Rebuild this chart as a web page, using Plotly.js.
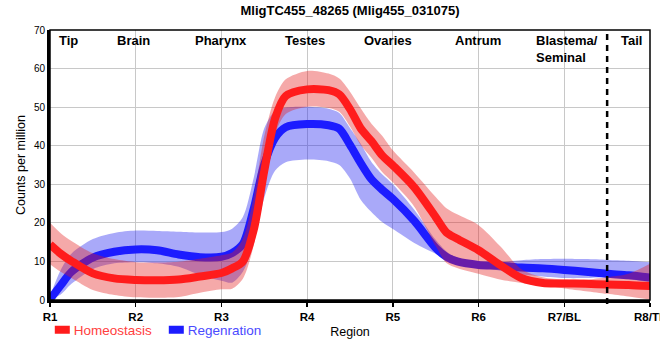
<!DOCTYPE html>
<html>
<head>
<meta charset="utf-8">
<script src="https://cdn.plot.ly/plotly-3.0.1.min.js"></script>
<style>html,body{margin:0;padding:0;background:#fff;}#chart{width:660px;height:360px;}</style>
</head>
<body>
<div id="chart"></div>
<script>
// Sample positions along the body axis (R1 = 1 ... R8 = 8)
const position = [1, 1.125, 1.25, 1.5, 1.75, 2, 2.25, 2.5, 2.75, 3, 3.125, 3.25, 3.375, 3.5, 3.625, 3.75, 4, 4.25, 4.375, 4.5, 4.625, 4.75, 4.875, 5, 5.25, 5.5, 5.625, 5.75, 6, 6.25, 6.5, 6.75, 7, 7.25, 7.5, 7.75, 8];

const homeoMean  = [14.4, 12.0, 10.1, 6.9, 5.6, 5.2, 5.1, 5.3, 6.1, 7.0, 8.2, 10.0, 18.0, 33.5, 47.0, 52.9, 54.6, 54.4, 53.3, 49.5, 44.5, 41.2, 37.5, 34.9, 29.2, 21.5, 17.5, 15.9, 12.9, 9.1, 5.7, 4.4, 4.3, 4.2, 4.0, 3.9, 3.6];
const homeoUpper = [20.0, 17.3, 15.3, 12.1, 10.6, 9.8, 9.7, 9.9, 10.7, 11.6, 12.3, 15.8, 26.5, 42.5, 52.5, 57.2, 59.4, 58.7, 57.4, 54.0, 49.7, 45.7, 42.6, 38.8, 33.0, 26.7, 23.8, 22.2, 19.4, 14.0, 8.0, 5.9, 5.3, 5.3, 5.9, 6.8, 9.4];
const homeoLower = [9.3, 7.3, 5.7, 2.6, 1.3, 0.7, 0.6, 0.8, 1.9, 2.8, 2.9, 5.5, 14.0, 30.0, 43.0, 48.2, 50.1, 49.8, 48.8, 45.0, 40.2, 36.9, 33.2, 30.5, 24.2, 14.0, 9.6, 8.3, 6.8, 5.3, 4.4, 3.9, 3.0, 2.3, 1.6, 0.9, 0.1];

const regenMean  = [0.2, 3.8, 7.3, 11.0, 12.5, 13.1, 12.9, 11.8, 11.1, 11.2, 12.2, 14.5, 23.5, 35.2, 42.0, 44.8, 45.6, 45.3, 44.4, 40.2, 35.5, 31.3, 28.6, 26.2, 20.5, 13.5, 11.2, 10.0, 9.1, 8.9, 8.4, 8.2, 7.8, 7.3, 6.8, 6.4, 5.8];
const regenUpper = [1.0, 7.8, 12.0, 15.8, 17.4, 18.0, 17.9, 17.7, 17.5, 17.6, 18.5, 21.5, 31.5, 44.5, 49.0, 49.9, 50.1, 49.6, 48.5, 44.6, 40.5, 35.8, 32.6, 30.0, 23.4, 15.6, 12.6, 11.0, 9.8, 9.9, 10.3, 10.6, 10.7, 10.6, 10.4, 10.2, 9.8];
const regenLower = [0.0, 1.4, 4.2, 8.0, 9.5, 9.8, 9.5, 8.6, 6.5, 5.0, 4.5, 7.3, 14.5, 26.5, 33.5, 35.7, 36.4, 36.0, 35.0, 31.5, 26.0, 22.8, 20.2, 18.4, 14.8, 12.0, 10.6, 9.2, 8.4, 7.6, 6.6, 6.1, 5.7, 5.7, 5.9, 5.4, 4.6];

const tickValues = [1, 2, 3, 4, 5, 6, 7, 8];
const tickLabels = ['R1', 'R2', 'R3', 'R4', 'R5', 'R6', 'R7/BL', 'R8/TL'];
const regionNames = ['Tip', 'Brain', 'Pharynx', 'Testes', 'Ovaries', 'Antrum', 'Blastema/<br>Seminal', 'Tail'];
const seriesNames = ['Homeostasis', 'Regenration'];
const tailBoundary = 7.5;

const FONT = 'Liberation Sans, Arial, sans-serif';
const RED = 'rgb(255,28,28)';
const BLUE = 'rgb(28,28,255)';
const RED_BAND = 'rgba(228,30,30,0.38)';
const BLUE_BAND = 'rgba(30,30,240,0.38)';

function band(lower, upper, color) {
  return [
    {x: position, y: lower, type: 'scatter', mode: 'lines', line: {width: 0, shape: 'spline', smoothing: 0.8}, hoverinfo: 'skip', showlegend: false},
    {x: position, y: upper, type: 'scatter', mode: 'lines', fill: 'tonexty', fillcolor: color, line: {width: 0, shape: 'spline', smoothing: 0.8}, hoverinfo: 'skip', showlegend: false}
  ];
}

const traces = [
  ...band(regenLower, regenUpper, BLUE_BAND),
  {x: position, y: regenMean, type: 'scatter', mode: 'lines', name: '<span style="color:#4a4aff">' + seriesNames[1] + '</span>', line: {color: BLUE, width: 8, shape: 'spline', smoothing: 0.8}},
  ...band(homeoLower, homeoUpper, RED_BAND),
  {x: position, y: homeoMean, type: 'scatter', mode: 'lines', name: '<span style="color:#ff4040">' + seriesNames[0] + '</span>', line: {color: RED, width: 8, shape: 'spline', smoothing: 0.8}}
];

const regionNameX = [1.22, 1.97, 2.99, 3.97, 4.94, 5.99, 6.65, 7.78];
const annotations = regionNames.map((t, i) => ({
  x: regionNameX[i], xref: 'x', y: 0.995, yref: 'paper', yanchor: 'top',
  xanchor: i === 6 ? 'left' : 'center', align: 'left',
  text: '<b>' + t + '</b>', showarrow: false,
  font: {family: FONT, size: 13, color: '#000'}
}));

const layout = {
  width: 660, height: 360,
  margin: {l: 50, r: 10, t: 30, b: 60},
  paper_bgcolor: '#fff', plot_bgcolor: '#fff',
  font: {family: FONT, color: '#000'},
  title: {text: '<b>MligTC455_48265 (Mlig455_031075)</b>', font: {family: FONT, size: 13, color: '#000'}, x: 0.5, xref: 'paper', y: 0.972, yref: 'container', yanchor: 'middle'},
  xaxis: {
    range: [1, 8], tickvals: tickValues, ticktext: tickLabels,
    tickfont: {family: FONT, size: 11.5, color: '#000', weight: 'bold'},
    ticklabeloverflow: 'allow',
    showgrid: true, gridcolor: '#c8c8c8', gridwidth: 1,
    showline: true, linecolor: '#000', linewidth: 3,
    ticks: 'outside', ticklen: 4, tickwidth: 1.5, tickcolor: '#000',
    zeroline: false, automargin: false,
    title: {text: 'Region', font: {family: FONT, size: 12.5, color: '#000'}, standoff: 6}
  },
  yaxis: {
    range: [0, 70], dtick: 10,
    tickfont: {family: FONT, size: 10, color: '#000'},
    showgrid: true, gridcolor: '#c8c8c8', gridwidth: 1,
    showline: true, linecolor: '#000', linewidth: 3,
    ticks: '', zeroline: false, automargin: false,
    title: {text: 'Counts per million', font: {family: FONT, size: 12.5, color: '#000'}, standoff: 6}
  },
  legend: {
    orientation: 'h', x: -0.027, xanchor: 'left', y: -0.111, yanchor: 'middle',
    font: {family: FONT, size: 13.5}, itemwidth: 30, entrywidth: 69, entrywidthmode: 'pixels',
    traceorder: 'reversed', bgcolor: 'rgba(0,0,0,0)', borderwidth: 0
  },
  shapes: [
    {type: 'rect', xref: 'paper', yref: 'paper', x0: 0, x1: 1, y0: 0, y1: 1, line: {color: '#000', width: 1.5}, fillcolor: 'rgba(0,0,0,0)', layer: 'above'},
    {type: 'line', xref: 'x', yref: 'paper', x0: tailBoundary, x1: tailBoundary, y0: -0.015, y1: 1, line: {color: '#000', width: 2.5, dash: '6px,5px'}, layer: 'above'}
  ],
  annotations: annotations,
  showlegend: true
};

Plotly.newPlot('chart', traces, layout, {staticPlot: true, displayModeBar: false}).then(function (gd) {
  // shorter legend line swatches, as in the original figure
  gd.querySelectorAll('.legend .legendlines path').forEach(function (p) { p.setAttribute('d', 'M21,0h15'); });
});
</script>
</body>
</html>
